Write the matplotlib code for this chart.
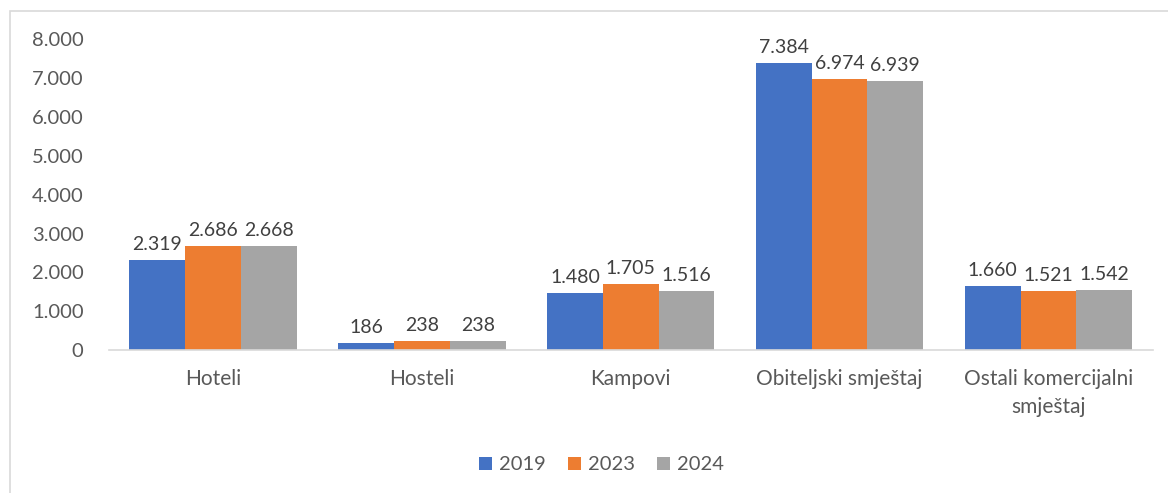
import matplotlib.pyplot as plt
import matplotlib.patches as mpatches
import numpy as np
from matplotlib.ticker import FuncFormatter

plt.rcParams['font.family'] = ['Lato', 'DejaVu Sans']

categories = ['Hoteli', 'Hosteli', 'Kampovi', 'Obiteljski smještaj', 'Ostali komercijalni\nsmještaj']
years = ['2019', '2023', '2024']
v2019 = [2319, 186, 1480, 7384, 1660]
v2023 = [2686, 238, 1705, 6974, 1521]
v2024 = [2668, 238, 1516, 6939, 1542]
colors = ['#4472C4', '#ED7D31', '#A5A5A5']

def fmt(v, pos=None):
    return '{:,.0f}'.format(v).replace(',', '.')

fig = plt.figure(figsize=(11.68, 4.93), dpi=100)
ax = fig.add_axes([0.093, 0.29, 0.894, 0.63])

# chart frame like excel
fig.patches.append(mpatches.Rectangle((10 / 1168, -0.01), 1.1, 1 - 11 / 493 + 0.01,
                                      transform=fig.transFigure, fill=False,
                                      edgecolor='#d9d9d9', linewidth=1.2))

x = np.arange(len(categories))
w = 0.267
for i, (vals, c, yr) in enumerate(zip([v2019, v2023, v2024], colors, years)):
    bars = ax.bar(x + (i - 1) * w, vals, w, color=c, label=yr)
    for b, v in zip(bars, vals):
        ax.text(b.get_x() + b.get_width() / 2, v + 180, fmt(v), ha='center', va='bottom',
                fontsize=14, color='#404040')

ax.set_xlim(-0.5, len(categories) - 0.5)
ax.set_ylim(0, 8000)
ax.set_yticks(range(0, 8001, 1000))
ax.yaxis.set_major_formatter(FuncFormatter(fmt))
ax.set_xticks(x)
ax.set_xticklabels(categories, linespacing=1.45)
ax.tick_params(axis='both', length=0, labelcolor='#595959')
ax.tick_params(axis='y', pad=18, labelsize=14.5)
ax.tick_params(axis='x', pad=14, labelsize=15)
for s in ['top', 'right', 'left']:
    ax.spines[s].set_visible(False)
ax.spines['bottom'].set_color('#d9d9d9')
ax.spines['bottom'].set_linewidth(1.2)

leg = fig.legend(loc='center', bbox_to_anchor=(0.515, 0.057), ncol=3, frameon=False,
                 fontsize=14.5, handlelength=0.65, handleheight=0.65, handletextpad=0.35,
                 columnspacing=1.1)
for t in leg.get_texts():
    t.set_color('#595959')

fig.savefig('out.png', dpi=100)
